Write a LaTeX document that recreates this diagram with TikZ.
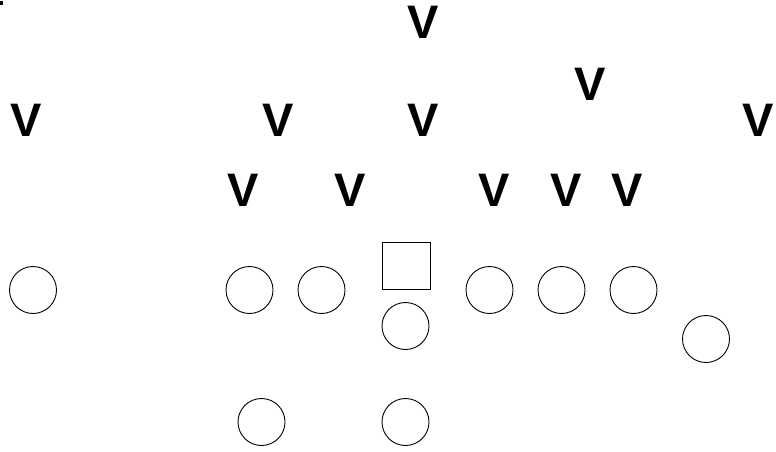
\documentclass[tikz,border=0pt]{standalone}
\usepackage{fontspec}
\setmainfont{Liberation Sans}
\begin{document}
\begin{tikzpicture}[x=1pt,y=-1pt,
  def/.style={font=\bfseries\fontsize{47}{47}\selectfont, inner sep=0pt, anchor=base},
  off/.style={draw, circle, minimum size=47pt, inner sep=0pt, line width=0.9pt},
  ctr/.style={draw, rectangle, minimum width=48pt, minimum height=47pt, inner sep=0pt, line width=0.9pt}]
\useasboundingbox (0,0) rectangle (776,451);
\fill (0,1) rectangle (3,5);
% defenders
\node[def] (d1) at (423,38.5) {V};
\node[def] (d2) at (590,100) {V};
\node[def] (d3) at (26.5,136) {V};
\node[def] (d4) at (278,136) {V};
\node[def] (d5) at (423,136) {V};
\node[def] (d6) at (758,136) {V};
\node[def] (d7) at (243,206) {V};
\node[def] (d8) at (350,206) {V};
\node[def] (d9) at (494,206) {V};
\node[def] (d10) at (566,206) {V};
\node[def] (d11) at (627,206) {V};
% offense
\node[ctr] (c) at (406,265.5) {};
\node[off] (o1) at (33,290) {};
\node[off] (o2) at (249.5,290) {};
\node[off] (o3) at (321.5,290) {};
\node[off] (o4) at (489.5,290) {};
\node[off] (o5) at (561.5,290) {};
\node[off] (o6) at (633.5,290) {};
\node[off] (qb) at (405.5,326) {};
\node[off] (o7) at (706,339) {};
\node[off] (rb1) at (261.5,422) {};
\node[off] (rb2) at (405.5,422) {};
\end{tikzpicture}
\end{document}
